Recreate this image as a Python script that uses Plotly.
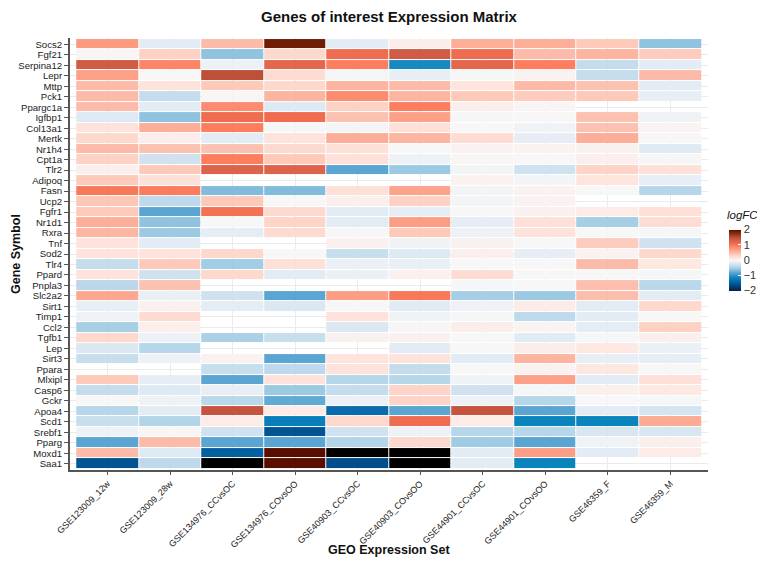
import plotly.graph_objects as go

genes = ["Socs2", "Fgf21", "Serpina12", "Lepr", "Mttp", "Pck1", "Ppargc1a", "Igfbp1",
         "Col13a1", "Mertk", "Nr1h4", "Cpt1a", "Tlr2", "Adipoq", "Fasn", "Ucp2", "Fgfr1",
         "Nr1d1", "Rxra", "Tnf", "Sod2", "Tlr4", "Ppard", "Pnpla3", "Slc2a2", "Sirt1",
         "Timp1", "Ccl2", "Tgfb1", "Lep", "Sirt3", "Ppara", "Mlxipl", "Casp6", "Gckr",
         "Apoa4", "Scd1", "Srebf1", "Pparg", "Moxd1", "Saa1"]

datasets = ["GSE123009_12w", "GSE123009_28w", "GSE134976_CCvsOC", "GSE134976_COvsOO",
            "GSE40903_CCvsOC", "GSE40903_COvsOO", "GSE44901_CCvsOC", "GSE44901_COvsOO",
            "GSE46359_F", "GSE46359_M"]

N = None   # gene not measured in the set
X = 2.5    # value beyond the +/-2 colour limits (drawn black)

GSE123009_12w = [0.75, 0.02, 1.35, 0.7, 0.5, 0.5, 0.5, -0.18, 0.2, 0.3, 0.5, 0.35, 0.08, 0.4,
                 1.0, 0.42, 0.4, 0.6, 0.55, 0.2, 0.2, -0.35, 0.2, -0.4, 0.65, -0.12, -0.07,
                 -0.5, 0.3, -0.2, -0.33, N, 0.4, -0.35, 0.0, -0.42, -0.32, -0.07, -0.8, 0.5, -1.55]
GSE123009_28w = [-0.15, 0.35, 0.9, 0.0, 0.2, -0.35, -0.15, -0.6, 0.6, 0.1, 0.45, -0.27, 0.4, 0.22,
                 0.97, -0.38, -0.8, -0.6, -0.55, -0.15, 0.2, 0.4, -0.27, 0.45, -0.11, 0.07, 0.27,
                 0.08, -0.08, -0.42, -0.07, N, -0.13, -0.18, -0.07, -0.15, -0.43, 0.02, 0.5, -0.18, -0.38]
GSE134976_CCvsOC = [0.5, -0.6, -0.08, 1.5, 0.4, 0.02, 0.85, 1.1, 0.95, -0.15, 0.45, 0.95, 1.25, N,
                    -0.65, 0.4, 1.05, 0.0, -0.14, N, 0.3, -0.52, 0.3, N, -0.27, -0.14, N,
                    N, -0.47, N, 0.05, -0.33, -0.8, -0.12, -0.4, 1.45, 0.12, -0.27, -0.8, -1.45, X]
GSE134976_COvsOO = [1.9, 0.3, 1.2, 0.25, 0.3, 0.55, -0.18, 1.1, -0.02, 0.2, 0.28, 0.4, 1.25, N,
                    -0.65, 0.0, 0.28, 0.33, 0.27, N, 0.0, 0.22, -0.15, N, -0.8, -0.2, N,
                    N, -0.33, N, -0.8, -0.38, 0.2, -0.55, -0.77, 0.12, -1.2, -1.55, -0.8, 2.0, 2.0]
GSE40903_CCvsOC = [-0.15, 1.1, 0.95, -0.03, 0.55, 0.85, 0.35, 0.45, -0.04, 0.6, 0.22, 0.22, -0.8, N,
                   0.22, 0.08, -0.15, -0.15, -0.01, 0.07, -0.33, -0.1, -0.09, N, 0.72, 0.0, 0.2,
                   -0.2, 0.06, N, 0.18, 0.2, -0.42, -0.35, -0.1, -1.35, 0.3, -0.27, -0.43, X, -1.6]
GSE40903_COvsOO = [0.1, 1.35, -1.1, -0.12, 0.5, 0.55, 0.95, 0.7, 0.22, 0.55, 0.0, -0.07, -0.55, N,
                   0.68, 0.35, -0.13, 0.72, 0.4, -0.05, -0.18, -0.11, 0.07, N, 1.0, -0.16, -0.05,
                   -0.01, 0.06, -0.15, 0.2, -0.35, -0.42, 0.33, 0.33, -0.8, 1.1, -0.07, 0.3, X, X]
GSE44901_CCvsOC = [0.6, 1.1, 1.2, 0.01, 0.18, 0.4, 0.08, 0.01, 0.0, 0.25, 0.05, 0.02, -0.04, 0.05,
                   -0.04, -0.04, 0.0, -0.13, -0.07, 0.06, 0.08, 0.0, 0.25, -0.02, -0.5, -0.07, -0.02,
                   0.1, 0.0, 0.0, -0.16, 0.0, -0.05, -0.27, -0.07, 1.45, 0.12, -0.42, -0.53, -0.15, -0.15]
GSE44901_COvsOO = [0.6, 0.5, 0.95, 0.05, 0.5, 0.38, 0.02, 0.0, -0.05, -0.13, 0.05, 0.0, -0.28, -0.04,
                   0.05, 0.05, 0.06, 0.22, 0.2, 0.0, -0.13, 0.0, 0.0, 0.0, -0.55, 0.12, -0.38,
                   0.04, -0.16, 0.1, 0.55, 0.05, 0.7, -0.02, -0.42, -0.8, -1.15, -0.42, -0.8, 0.72, -1.15]
GSE46359_F = [0.4, 0.55, -0.35, -0.35, 0.45, 0.4, N, 0.45, 0.45, 0.6, 0.06, 0.08, 0.33, 0.18,
              0.0, N, 0.12, -0.5, 0.0, 0.38, 0.05, 0.5, 0.0, 0.47, 0.48, -0.15, -0.15,
              -0.14, -0.02, 0.15, -0.12, 0.16, -0.15, 0.07, 0.0, -0.15, -1.15, -0.22, -0.05, -0.15, N]
GSE46359_M = [-0.6, 0.38, -0.15, 0.5, -0.15, -0.12, N, -0.05, 0.04, 0.0, -0.17, 0.01, 0.22, -0.12,
              -0.42, N, 0.22, 0.25, -0.02, -0.27, 0.3, 0.15, -0.02, -0.4, -0.15, 0.3, 0.0,
              0.35, 0.08, -0.1, -0.13, 0.0, 0.22, 0.15, -0.02, -0.25, 0.62, -0.23, 0.08, 0.12, N]

columns = [GSE123009_12w, GSE123009_28w, GSE134976_CCvsOC, GSE134976_COvsOO,
           GSE40903_CCvsOC, GSE40903_COvsOO, GSE44901_CCvsOC, GSE44901_COvsOO,
           GSE46359_F, GSE46359_M]

zmin, zmax = -2, 2
legend_ticks = [-2, -1, 0, 1, 2]

# matrix (rows = genes, cols = datasets)
z_in = []
z_out = []
for i in range(len(genes)):
    row_in, row_out = [], []
    for col in columns:
        v = col[i]
        if v is None:
            row_in.append(None); row_out.append(None)
        elif v > zmax or v < zmin:
            row_in.append(None); row_out.append(1)
        else:
            row_in.append(v); row_out.append(None)
    z_in.append(row_in)
    z_out.append(row_out)

stops = [(-2.0, "#0b1d3c"), (-1.6, "#004f8c"), (-1.35, "#0a6aaa"), (-1.15, "#0a84bd"),
         (-0.8, "#5aa5d2"), (-0.55, "#9ccae2"), (-0.35, "#c4dcec"), (-0.15, "#e3ecf4"),
         (0.0, "#f7f7f7"), (0.15, "#fde8e2"), (0.3, "#fdd8cc"), (0.5, "#fcbba8"),
         (0.7, "#fca188"), (0.95, "#fc7e5f"), (1.1, "#ef6c50"), (1.3, "#d8604a"),
         (1.5, "#bd5038"), (1.85, "#7a2306"), (2.0, "#5a0e00")]
colorscale = [[(v - zmin) / (zmax - zmin), c] for v, c in stops]

font = "Liberation Sans, Arial, sans-serif"

# the page adds an 8px body margin; lay the figure out in reference pixels minus that offset
OFF = 8
W, H = 765 - OFF, 567 - OFF
L, R, T, B = 70 - OFF, 57, 38 - OFF, 105 - OFF
pw, ph = W - L - R, H - T - B


def px_x(x):  # reference pixel -> paper x
    return (x - OFF - L) / pw


def px_y(y):  # reference pixel -> paper y
    return (H - B - (y - OFF)) / ph


fig = go.Figure()
fig.add_trace(go.Heatmap(
    z=z_in, x=datasets, y=genes, zmin=zmin, zmax=zmax, colorscale=colorscale,
    xgap=1, ygap=1, hoverongaps=False,
    colorbar=dict(
        x=px_x(729), xanchor="left", y=px_y(260), yanchor="middle",
        thickness=12, len=61, lenmode="pixels", ypad=0, xpad=0,
        tickvals=legend_ticks, ticks="inside", ticklen=3, tickcolor="white",
        tickfont=dict(size=11, family=font, color="#333"), outlinewidth=0,
    ),
))
fig.add_trace(go.Heatmap(
    z=z_out, x=datasets, y=genes, colorscale=[[0, "black"], [1, "black"]],
    showscale=False, xgap=1, ygap=1, hoverongaps=False,
))

fig.update_layout(
    width=W, height=H,
    margin=dict(l=L, r=R, t=T, b=B, autoexpand=False),
    paper_bgcolor="white", plot_bgcolor="white",
    font=dict(family=font, color="#222"),
    title=dict(text="<b>Genes of interest Expression Matrix</b>",
               x=(L + pw / 2) / W, xanchor="center", y=1 - (17 - OFF) / H, yanchor="middle",
               font=dict(size=15, family=font, color="#111")),
    xaxis=dict(range=[-0.6, 9.6], tickangle=-45, showgrid=True, gridcolor="#ebebeb",
               tickmode="array", tickvals=datasets, automargin=False,
               showline=True, linecolor="#555", linewidth=2, ticks="outside",
               ticklen=3, tickcolor="#555", tickwidth=1,
               tickfont=dict(size=9, family=font, color="#222"), zeroline=False),
    yaxis=dict(range=[40.6, -0.6], showgrid=True, gridcolor="#ebebeb",
               tickmode="array", tickvals=genes, automargin=False,
               showline=True, linecolor="#555", linewidth=2, ticks="outside",
               ticklen=4, tickcolor="#555", tickwidth=1,
               tickfont=dict(size=9.6, family=font, color="#222"), zeroline=False),
    annotations=[
        dict(text="<b>GEO Expression Set</b>", xref="paper", yref="paper",
             x=0.5, y=px_y(550), xanchor="center", yanchor="middle",
             showarrow=False, font=dict(size=12.5, family=font, color="#111")),
        dict(text="<b>Gene Symbol</b>", xref="paper", yref="paper",
             x=px_x(16), y=0.5, xanchor="center", yanchor="middle", textangle=-90,
             showarrow=False, font=dict(size=12.5, family=font, color="#111")),
        dict(text="<i>logFC</i>", xref="paper", yref="paper",
             x=px_x(725), xanchor="left", y=px_y(215), yanchor="middle",
             showarrow=False, font=dict(size=11.5, family=font, color="#111")),
    ],
)

fig.write_html("out.html")
